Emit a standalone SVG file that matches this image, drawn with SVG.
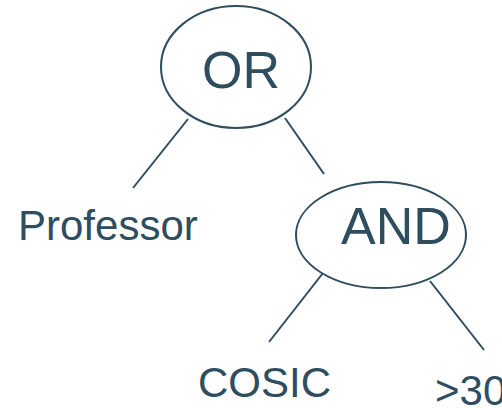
<svg xmlns="http://www.w3.org/2000/svg" width="502" height="408" viewBox="0 0 502 408">
<style>
.n{fill:#fff;stroke:#2e4d5e;stroke-width:2}
.c line{stroke:#2e4d5e;stroke-width:2}
text{font-family:"Liberation Sans",Arial,sans-serif;fill:#2e4d5e}
</style>
<rect width="502" height="408" fill="#fff"/>
<g class="c" id="connectors">
<line x1="188" y1="119" x2="133" y2="188"/>
<line x1="285" y1="118" x2="324" y2="174"/>
<line x1="323" y1="273" x2="269" y2="342"/>
<line x1="430" y1="281" x2="484" y2="350"/>
</g>
<g id="or"><ellipse class="n" cx="236" cy="67" rx="75" ry="61"/><text x="241" y="88" font-size="52" text-anchor="middle">OR</text></g>
<g id="and"><ellipse class="n" cx="381" cy="235" rx="85" ry="53"/><text x="396" y="244" font-size="52" text-anchor="middle">AND</text></g>
<g id="professor"><text x="18" y="240" font-size="42">Professor</text></g>
<g id="cosic"><text x="198" y="397" font-size="42">COSIC</text></g>
<g id="gt30"><text x="435" y="405" font-size="42">&gt;30</text></g>
</svg>
